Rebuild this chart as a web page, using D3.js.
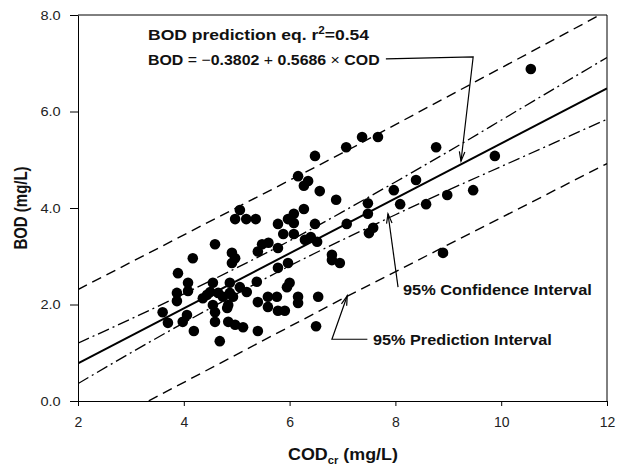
<!DOCTYPE html>
<html>
<head>
<meta charset="utf-8">
<script src="https://cdn.jsdelivr.net/npm/d3@7.9.0/dist/d3.min.js"></script>
<style>
  body { margin: 0; background: #fff; }
  svg { display: block; font-family: "Liberation Sans", Arial, sans-serif; }
</style>
</head>
<body>
<svg id="chart" width="624" height="466"></svg>
<script>
// --- DATA ---
const xTicks = [2, 4, 6, 8, 10, 12];
const yTicks = [0, 2, 4, 6, 8];

// observed COD / BOD pairs
const codObs = [10.56, 9.88, 9.47, 8.98, 8.90, 8.77, 8.39, 8.58, 8.09, 7.97, 7.67, 7.37, 7.07, 7.48, 7.48, 7.08, 7.58, 7.50,
  6.95, 6.80, 6.80, 6.48, 6.16, 6.35, 6.27, 6.57, 6.88, 6.27, 6.08, 5.97, 6.08, 5.78, 6.48, 5.88, 6.08, 6.40, 6.29, 6.52,
  5.78, 5.40, 5.48, 5.60, 4.59, 4.17, 4.91, 4.97, 4.91, 3.89, 4.08, 3.87, 4.08, 3.87, 4.55, 4.87, 5.06, 5.19, 5.38, 4.44,
  4.65, 4.74, 4.87, 4.93, 4.84, 4.55, 4.59, 5.40, 4.06, 3.98, 3.60, 3.70, 4.59, 4.84, 4.97, 5.12, 4.19, 5.40, 4.68, 5.78,
  5.97, 5.95, 6.00, 5.59, 5.76, 5.59, 5.78, 5.91, 6.16, 6.16, 6.54, 6.50, 5.06, 4.97, 5.18, 5.36, 4.36, 4.50, 4.82];
const bodObs = [6.88, 5.08, 4.37, 4.27, 3.07, 5.26, 4.58, 4.08, 4.08, 4.37, 5.47, 5.47, 5.26, 4.10, 3.88, 3.67, 3.59, 3.48,
  2.86, 3.03, 2.92, 5.08, 4.66, 4.56, 4.46, 4.35, 4.17, 3.98, 3.88, 3.77, 3.69, 3.67, 3.67, 3.46, 3.46, 3.40, 3.34, 3.30,
  3.17, 3.10, 3.25, 3.28, 3.25, 2.96, 3.07, 2.96, 2.86, 2.65, 2.45, 2.24, 2.28, 2.07, 2.45, 2.45, 2.36, 2.26, 2.47, 2.20,
  2.24, 2.16, 2.24, 2.16, 1.99, 1.99, 1.84, 2.05, 1.78, 1.64, 1.84, 1.62, 1.64, 1.64, 1.58, 1.53, 1.45, 1.45, 1.24, 2.76,
  2.86, 2.36, 2.45, 2.16, 2.16, 1.95, 1.87, 1.87, 2.16, 2.03, 2.16, 1.55, 3.96, 3.77, 3.77, 3.77, 2.13, 2.26, 1.93];

// regression line and bands
const fitX = [2, 12];
const fitY = [0.78, 6.48];
const ciX = [2, 3, 4, 5, 6, 7, 8, 9, 10, 11, 12];
const ciUpper = [1.20, 1.70, 2.22, 2.76, 3.32, 3.92, 4.54, 5.17, 5.82, 6.47, 7.12];
const ciLower = [0.36, 1.00, 1.62, 2.22, 2.80, 3.34, 3.86, 4.37, 4.86, 5.35, 5.84];
const piX = [2, 7, 12];
const piUpper = [2.31, 5.14, 8.08];
const piLower = [-0.77, 2.12, 4.92];

// --- LAYOUT ---
const svg = d3.select('#chart');
const margin = { left: 78, right: 17, top: 15, bottom: 65 };
const W = 624, H = 466;

const x = d3.scaleLinear().domain([2, 12]).range([margin.left, W - margin.right]);
const y = d3.scaleLinear().domain([0, 8]).range([H - margin.bottom, margin.top]);

svg.append('defs').append('clipPath').attr('id', 'plot')
  .append('rect')
  .attr('x', x(2)).attr('y', y(8))
  .attr('width', x(12) - x(2)).attr('height', y(0) - y(8));

// axes
const xAxis = svg.append('g')
  .attr('transform', `translate(0,${y(0)})`)
  .call(d3.axisBottom(x).tickValues(xTicks).tickFormat(d3.format('d')).tickSize(5).tickSizeOuter(0));
const yAxis = svg.append('g')
  .attr('transform', `translate(${x(2)},0)`)
  .call(d3.axisLeft(y).tickValues(yTicks).tickFormat(d3.format('.1f')).tickSize(8).tickSizeOuter(0));

[xAxis, yAxis].forEach(g => {
  g.selectAll('text').attr('fill', '#222')
    .attr('font-family', '"Liberation Sans", Arial, sans-serif');
  g.selectAll('line, path').attr('stroke', '#000');
});
xAxis.selectAll('text').attr('font-size', 14).attr('y', 26).attr('dy', 0);
yAxis.selectAll('text').attr('font-size', 13.5).attr('x', -16).attr('transform', 'scale(1.08,1)');

// frame (top + right)
svg.append('path')
  .attr('d', `M${x(2)},${y(8)}H${x(12)}V${y(0)}`)
  .attr('fill', 'none').attr('stroke', '#000').attr('stroke-width', 1);

// lines
const plot = svg.append('g').attr('clip-path', 'url(#plot)');
const line = d3.line().x(d => x(d[0])).y(d => y(d[1]));
const smooth = d3.line().x(d => x(d[0])).y(d => y(d[1])).curve(d3.curveNatural);

const series = [
  { pts: d3.zip(piX, piUpper), gen: line, dash: '10,6', w: 1.4 },
  { pts: d3.zip(piX, piLower), gen: line, dash: '10,6', w: 1.4 },
  { pts: d3.zip(ciX, ciUpper), gen: smooth, dash: '12,4,2,4', w: 1.3 },
  { pts: d3.zip(ciX, ciLower), gen: smooth, dash: '12,4,2,4', w: 1.3 },
  { pts: d3.zip(fitX, fitY), gen: line, dash: null, w: 2 }
];
plot.selectAll('path.fit')
  .data(series)
  .join('path')
  .attr('class', 'fit')
  .attr('d', d => d.gen(d.pts))
  .attr('fill', 'none')
  .attr('stroke', '#000')
  .attr('stroke-width', d => d.w)
  .attr('stroke-dasharray', d => d.dash);

// points
svg.append('g').selectAll('circle')
  .data(d3.zip(codObs, bodObs))
  .join('circle')
  .attr('cx', d => x(d[0]))
  .attr('cy', d => y(d[1]))
  .attr('r', 5.3)
  .attr('fill', '#000');

// --- ANNOTATIONS ---
function arrow(pts) {
  const p = pts.map(d => [x(d[0]), y(d[1])]);
  svg.append('path').attr('d', d3.line()(p))
    .attr('fill', 'none').attr('stroke', '#000').attr('stroke-width', 1.2);
  const [a, b] = p.slice(-2);
  const ang = Math.atan2(b[1] - a[1], b[0] - a[0]);
  const len = 10, spread = 0.28;
  const head = [
    [b[0] - len * Math.cos(ang - spread), b[1] - len * Math.sin(ang - spread)],
    b,
    [b[0] - len * Math.cos(ang + spread), b[1] - len * Math.sin(ang + spread)]
  ];
  svg.append('path').attr('d', d3.line()(head))
    .attr('fill', 'none').attr('stroke', '#000').attr('stroke-width', 1.2);
}

arrow([[7.82, 7.09], [9.47, 7.13], [9.24, 4.97]]);
arrow([[8.05, 2.36], [7.86, 3.88]]);
arrow([[7.47, 1.28], [6.80, 1.28], [7.09, 2.18]]);

// stretch a text horizontally so it spans x0..x0+width (the scan is wide)
function fit(t, x0, y0, width) {
  const w = t.node().getBBox().width;
  t.attr('transform', `translate(${x0},${y0}) scale(${width / w},1)`);
}

const title = svg.append('text')
  .attr('font-size', 15).attr('font-weight', 'bold').attr('fill', '#111');
title.append('tspan').text('BOD prediction eq. r');
title.append('tspan').attr('font-size', 10).attr('dy', -6).text('2');
title.append('tspan').attr('dy', 6).text('=0.54');
fit(title, 148, 40, 222);

const eq = svg.append('text')
  .attr('font-size', 15).attr('font-weight', 'bold').attr('fill', '#111');
eq.append('tspan').text('BOD ');
eq.append('tspan').attr('font-weight', 'normal').text('= \u2212');
eq.append('tspan').text('0.3802 ');
eq.append('tspan').attr('font-weight', 'normal').text('+ ');
eq.append('tspan').text('0.5686 ');
eq.append('tspan').attr('font-weight', 'normal').text('\u00d7 ');
eq.append('tspan').text('COD');
fit(eq, 148, 65, 232);

const ci = svg.append('text')
  .attr('font-size', 15).attr('font-weight', 'bold').attr('fill', '#111')
  .text('95% Confidence Interval');
fit(ci, 403, 295, 189);
const pi = svg.append('text')
  .attr('font-size', 15).attr('font-weight', 'bold').attr('fill', '#111')
  .text('95% Prediction Interval');
fit(pi, 373, 345, 179);

// axis titles
const xt = svg.append('text')
  .attr('font-size', 16).attr('font-weight', 'bold').attr('fill', '#111');
xt.append('tspan').text('COD');
xt.append('tspan').attr('font-size', 10).attr('dy', 4).text('cr');
xt.append('tspan').attr('dy', -4).text(' (mg/L)');
fit(xt, 288, 460, 110);

svg.append('text')
  .attr('transform', `translate(27,208) scale(1.2,1) rotate(-90)`)
  .attr('text-anchor', 'middle').attr('font-size', 15).attr('font-weight', 'bold').attr('fill', '#111')
  .text('BOD (mg/L)');
</script>
</body>
</html>
